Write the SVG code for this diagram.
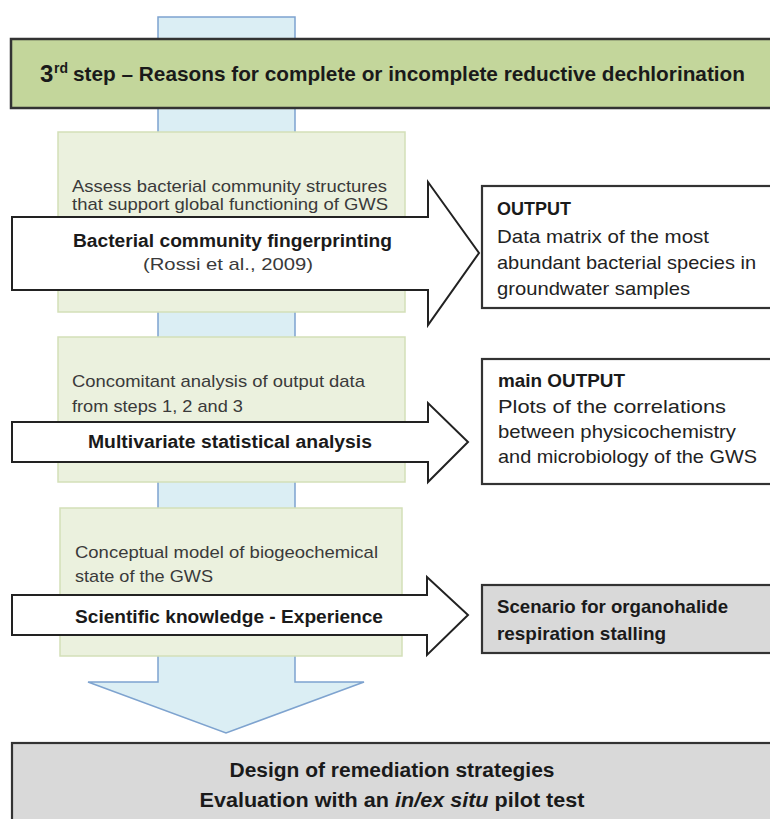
<svg xmlns="http://www.w3.org/2000/svg" width="770" height="819" viewBox="0 0 770 819">
<style>
  .t{font-family:"Liberation Sans","Open Sans",sans-serif;}
  .reg{font-size:17px;fill:#3a3a3a;}
  .bold{font-size:18px;font-weight:bold;fill:#1a1a1a;}
  .out{font-size:19px;fill:#222;}
  .outb{font-size:19px;font-weight:bold;fill:#1a1a1a;}
  .green{fill:#ebf1de;stroke:#d3dfb8;stroke-width:1.5;}
  .arrow{fill:#ffffff;stroke:#222;stroke-width:2;stroke-linejoin:miter;}
  .box{fill:#ffffff;stroke:#333;stroke-width:2.2;}
  .grey{fill:#d9d9d9;stroke:#333;stroke-width:2.2;}
</style>
<rect width="770" height="819" fill="#ffffff"/>
<g id="flow">
  <path d="M158,17 L295,17 L295,682 L364,682 L226,733 L88,682 L158,682 Z" fill="#dbeef4" stroke="#7ea3cf" stroke-width="1.5"/>
</g>
<g id="header">
  <rect x="11" y="39" width="775" height="69" fill="#c3d69b" stroke="#333" stroke-width="2.5"/>
  <text class="t" x="40" y="82" font-size="24" font-weight="bold" fill="#1a1a1a">3</text>
  <text class="t" x="54" y="73" font-size="14" font-weight="bold" fill="#1a1a1a">rd</text>
  <text class="t" x="73" y="81" font-size="21" font-weight="bold" fill="#1a1a1a" textLength="672" lengthAdjust="spacingAndGlyphs">step – Reasons for complete or incomplete reductive dechlorination</text>
</g>
<g id="box1">
  <rect class="green" x="58" y="132" width="347" height="180"/>
  <text class="t reg" x="72" y="192" textLength="315" lengthAdjust="spacingAndGlyphs">Assess  bacterial community structures</text>
  <text class="t reg" x="72" y="210" textLength="316" lengthAdjust="spacingAndGlyphs">that support global functioning of GWS</text>
</g>
<g id="box2">
  <rect class="green" x="58" y="337" width="347" height="145"/>
  <text class="t reg" x="72" y="387" textLength="293" lengthAdjust="spacingAndGlyphs">Concomitant analysis of output data</text>
  <text class="t reg" x="72" y="412" textLength="171" lengthAdjust="spacingAndGlyphs">from steps 1, 2 and 3</text>
</g>
<g id="box3">
  <rect class="green" x="60" y="508" width="342" height="148"/>
  <text class="t reg" x="75" y="558" textLength="303" lengthAdjust="spacingAndGlyphs">Conceptual model of biogeochemical</text>
  <text class="t reg" x="75" y="582" textLength="138" lengthAdjust="spacingAndGlyphs">state of the GWS</text>
</g>
<g id="connectors">
  <path class="arrow" d="M12,217 L428,217 L428,182 L479,253 L428,325 L428,290 L12,290 Z"/>
  <path class="arrow" d="M12,422 L428,422 L428,403 L468,442 L428,482 L428,462 L12,462 Z"/>
  <path class="arrow" d="M12,595 L427,595 L427,577 L468,615 L427,655 L427,635 L12,635 Z"/>
</g>
<g id="arrow1-label">
  <text class="t bold" x="73" y="247" textLength="319" lengthAdjust="spacingAndGlyphs">Bacterial community fingerprinting</text>
  <text class="t reg" x="143" y="270" textLength="170" lengthAdjust="spacingAndGlyphs" fill="#222">(Rossi et al., 2009)</text>
</g>
<g id="arrow2-label">
  <text class="t bold" x="88" y="448" textLength="284" lengthAdjust="spacingAndGlyphs">Multivariate statistical analysis</text>
</g>
<g id="arrow3-label">
  <text class="t bold" x="75" y="623" textLength="308" lengthAdjust="spacingAndGlyphs">Scientific knowledge - Experience</text>
</g>
<g id="output1">
  <rect class="box" x="482" y="186" width="300" height="122"/>
  <text class="t outb" x="497" y="215" textLength="74" lengthAdjust="spacingAndGlyphs">OUTPUT</text>
  <text class="t out" x="497" y="243" textLength="212" lengthAdjust="spacingAndGlyphs">Data matrix of the most</text>
  <text class="t out" x="497" y="269" textLength="259" lengthAdjust="spacingAndGlyphs">abundant bacterial species in</text>
  <text class="t out" x="497" y="295" textLength="193" lengthAdjust="spacingAndGlyphs">groundwater samples</text>
</g>
<g id="output2">
  <rect class="box" x="482" y="359" width="300" height="125"/>
  <text class="t outb" x="498" y="387" textLength="127" lengthAdjust="spacingAndGlyphs">main OUTPUT</text>
  <text class="t out" x="498" y="413" textLength="228" lengthAdjust="spacingAndGlyphs">Plots of the correlations</text>
  <text class="t out" x="498" y="438" textLength="238" lengthAdjust="spacingAndGlyphs">between physicochemistry</text>
  <text class="t out" x="498" y="463" textLength="259" lengthAdjust="spacingAndGlyphs">and microbiology of the GWS</text>
</g>
<g id="scenario">
  <rect class="grey" x="482" y="585" width="300" height="68"/>
  <text class="t outb" x="497" y="613" textLength="231" lengthAdjust="spacingAndGlyphs">Scenario for organohalide</text>
  <text class="t outb" x="497" y="640" textLength="169" lengthAdjust="spacingAndGlyphs">respiration stalling</text>
</g>
<g id="remediation">
  <rect class="grey" x="12" y="743" width="775" height="90"/>
  <text class="t" x="392" y="777" font-size="20" font-weight="bold" fill="#1a1a1a" text-anchor="middle" textLength="325" lengthAdjust="spacingAndGlyphs">Design of remediation strategies</text>
  <text class="t" x="392" y="807" font-size="20" font-weight="bold" fill="#1a1a1a" text-anchor="middle" textLength="385" lengthAdjust="spacingAndGlyphs">Evaluation with an <tspan font-style="italic">in/ex situ</tspan> pilot test</text>
</g>
</svg>
